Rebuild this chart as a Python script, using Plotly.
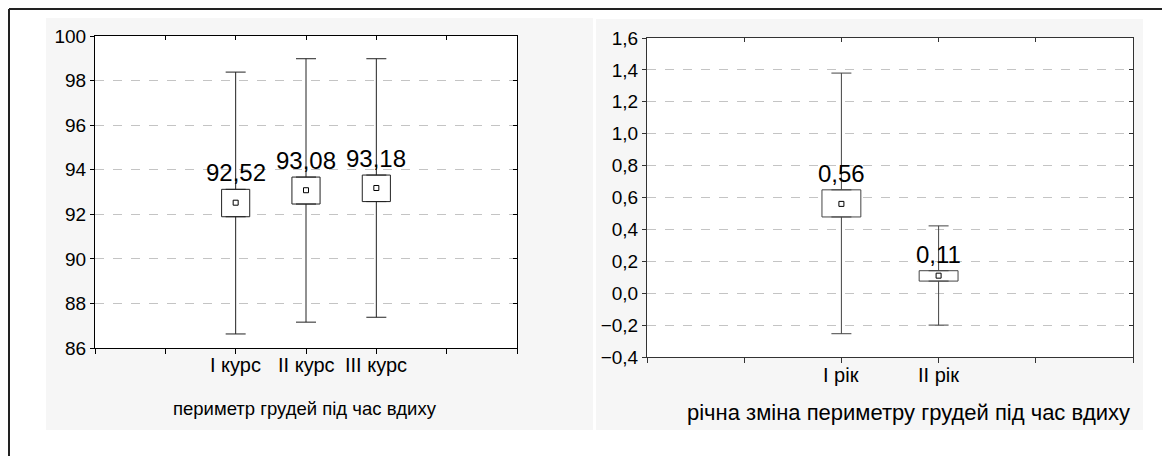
import plotly.graph_objects as go

# ---------------- data ----------------
cats_left = ["I курс", "II курс", "III курс"]
means_left = [92.52, 93.08, 93.18]
box_lo_left = [91.89, 92.46, 92.57]
box_hi_left = [93.12, 93.67, 93.76]
whisk_lo_left = [86.63, 87.16, 87.38]
whisk_hi_left = [98.38, 98.98, 98.98]
title_left = "периметр грудей під час вдиху"

cats_right = ["I рік", "II рік"]
means_right = [0.56, 0.11]
box_lo_right = [0.478, 0.076]
box_hi_right = [0.648, 0.141]
whisk_lo_right = [-0.254, -0.200]
whisk_hi_right = [1.380, 0.422]
title_right = "річна зміна периметру грудей під час вдиху"

# ---------------- style ----------------
W, H = 1170, 456
OFF = 8  # page (body) margin of the rendered html
FONT = "Liberation Sans, Arial, sans-serif"
BOX_W = 0.4


def px(x):
    return (x - OFF) / W


def py(y):
    return 1 - (y - OFF) / H


fig = go.Figure()


def add_panel(cats, means, lo, hi, wlo, whi, xa, ya, color, label_y):
    pos = list(range(len(cats)))
    n = len(cats)
    fig.add_trace(go.Bar(
        x=pos, y=[h - l for h, l in zip(hi, lo)], base=lo, width=BOX_W,
        marker=dict(color="white", line=dict(color=color, width=1)),
        xaxis=xa, yaxis=ya, showlegend=False, hoverinfo="skip"))
    fig.add_trace(go.Scatter(
        x=pos, y=hi, mode="markers", marker=dict(color="rgba(0,0,0,0)", size=1),
        error_y=dict(type="data", symmetric=False,
                     array=[a - b for a, b in zip(whi, hi)], arrayminus=[0] * n,
                     width=10, thickness=1, color=color),
        xaxis=xa, yaxis=ya, showlegend=False, hoverinfo="skip"))
    fig.add_trace(go.Scatter(
        x=pos, y=lo, mode="markers", marker=dict(color="rgba(0,0,0,0)", size=1),
        error_y=dict(type="data", symmetric=False,
                     array=[0] * n, arrayminus=[a - b for a, b in zip(lo, wlo)],
                     width=10, thickness=1, color=color),
        xaxis=xa, yaxis=ya, showlegend=False, hoverinfo="skip"))
    fig.add_trace(go.Scatter(
        x=pos, y=means, mode="markers",
        marker=dict(symbol="square-open", size=5, color="black", line=dict(width=1)),
        xaxis=xa, yaxis=ya, showlegend=False, hoverinfo="skip"))
    for p, m, h in zip(pos, means, hi):
        fig.add_annotation(x=p, y=h, xref=xa, yref=ya,
                           text=f"{m:.2f}".replace(".", ","),
                           showarrow=False, xanchor="center", yanchor="bottom", yshift=1,
                           font=dict(family=FONT, size=24, color="black"))
    # category labels under the x axis
    for p, c in zip(pos, cats):
        fig.add_annotation(x=p, y=py(label_y), xref=xa, yref="paper", text=c,
                           showarrow=False, xanchor="center", yanchor="middle",
                           font=dict(family=FONT, size=20, color="black"))
    return pos


pos_l = add_panel(cats_left, means_left, box_lo_left, box_hi_left,
                  whisk_lo_left, whisk_hi_left, "x", "y", "#222", 365)
pos_r = add_panel(cats_right, means_right, box_lo_right, box_hi_right,
                  whisk_lo_right, whisk_hi_right, "x2", "y2", "#444", 375)

# dummy traces for mirrored inside ticks
fig.add_trace(go.Scatter(x=[0], y=[means_left[0]], mode="markers",
                         marker=dict(color="rgba(0,0,0,0)"), xaxis="x3", yaxis="y3",
                         showlegend=False, hoverinfo="skip"))
fig.add_trace(go.Scatter(x=[0], y=[means_right[0]], mode="markers",
                         marker=dict(color="rgba(0,0,0,0)"), xaxis="x4", yaxis="y4",
                         showlegend=False, hoverinfo="skip"))

xr_l = [-2, len(cats_left) + 1]
xr_r = [-2, len(cats_right) + 1]
yr_l = [86, 100]
yr_r = [-0.4, 1.6]

dom_xl = [px(95), px(517)]
dom_yl = [py(348), py(36)]
dom_xr = [px(647), px(1133)]
dom_yr = [py(357), py(38)]

tickfont = dict(family=FONT, size=19, color="black")

base_x = dict(showgrid=False, zeroline=False, ticks="outside", ticklen=5,
              showline=True, mirror=True, showticklabels=False, automargin=False)
base_y = dict(showgrid=True, gridcolor="#c4c4c4", griddash="dash", gridwidth=1,
              zeroline=False, ticks="outside", ticklen=4, showline=True, mirror=True,
              tickfont=tickfont, automargin=False)
over = dict(showticklabels=False, ticks="inside", ticklen=4, showgrid=False,
            zeroline=False, showline=False, automargin=False)

fig.update_layout(
    template="none",
    width=W, height=H,
    margin=dict(l=0, r=0, t=0, b=0, pad=0, autoexpand=False),
    paper_bgcolor="white", plot_bgcolor="white",
    separators=", ",
    showlegend=False,
    xaxis=dict(base_x, domain=dom_xl, range=xr_l, anchor="y",
               tickvals=list(range(xr_l[0], xr_l[1] + 1)),
               linecolor="black", tickcolor="black"),
    yaxis=dict(base_y, domain=dom_yl, range=yr_l, dtick=2, anchor="x",
               linecolor="black", tickcolor="black"),
    xaxis2=dict(base_x, domain=dom_xr, range=xr_r, anchor="y2",
                tickvals=list(range(xr_r[0], xr_r[1] + 1)),
                linecolor="#333", tickcolor="#333"),
    yaxis2=dict(base_y, domain=dom_yr, range=yr_r, dtick=0.2, tickformat=".1f",
                anchor="x2", linecolor="#333", tickcolor="#333"),
    xaxis3=dict(over, overlaying="x", side="top", anchor="y", range=xr_l,
                tickvals=list(range(xr_l[0], xr_l[1] + 1)), tickcolor="black"),
    yaxis3=dict(over, overlaying="y", side="right", anchor="x", range=yr_l, dtick=2,
                tickcolor="black"),
    xaxis4=dict(over, overlaying="x2", side="top", anchor="y2", range=xr_r,
                tickvals=list(range(xr_r[0], xr_r[1] + 1)), tickcolor="#333"),
    yaxis4=dict(over, overlaying="y2", side="right", anchor="x2", range=yr_r, dtick=0.2,
                tickcolor="#333"),
)

# panel backgrounds
shapes = [
    dict(type="rect", xref="paper", yref="paper", x0=px(46), x1=px(593), y0=py(430), y1=py(18),
         fillcolor="#f6f6f6", line=dict(width=0), layer="below"),
    dict(type="rect", xref="paper", yref="paper", x0=px(596), x1=px(1143), y0=py(430), y1=py(19),
         fillcolor="#f6f6f6", line=dict(width=0), layer="below"),
    dict(type="rect", xref="paper", yref="paper", x0=dom_xl[0], x1=dom_xl[1], y0=dom_yl[0], y1=dom_yl[1],
         fillcolor="white", line=dict(width=0), layer="below"),
    dict(type="rect", xref="paper", yref="paper", x0=dom_xr[0], x1=dom_xr[1], y0=dom_yr[0], y1=dom_yr[1],
         fillcolor="white", line=dict(width=0), layer="below"),
    # outer frame (top and left edges visible)
    dict(type="line", xref="paper", yref="paper", x0=px(9), x1=1, y0=py(9), y1=py(9),
         line=dict(color="#222", width=2)),
    dict(type="line", xref="paper", yref="paper", x0=px(9), x1=px(9), y0=0, y1=py(9),
         line=dict(color="#222", width=2)),
]
fig.update_layout(shapes=shapes)

fig.add_annotation(x=px(305), y=py(408), xref="paper", yref="paper", text=title_left,
                   showarrow=False, xanchor="center", yanchor="middle",
                   font=dict(family=FONT, size=18.5, color="black"))
fig.add_annotation(x=px(908), y=py(412), xref="paper", yref="paper", text=title_right,
                   showarrow=False, xanchor="center", yanchor="middle",
                   font=dict(family=FONT, size=22, color="black"))

fig.write_html("out.html")
